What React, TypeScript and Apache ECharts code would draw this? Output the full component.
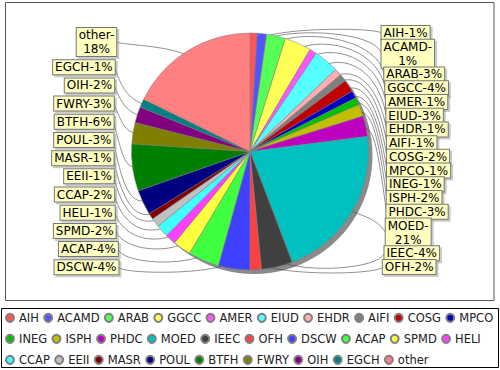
import React, { useEffect, useRef } from 'react';
import * as echarts from 'echarts';

const names = ['AIH', 'ACAMD', 'ARAB', 'GGCC', 'AMER', 'EIUD', 'EHDR', 'AIFI', 'COSG', 'MPCO', 'INEG', 'ISPH', 'PHDC', 'MOED', 'IEEC', 'OFH', 'DSCW', 'ACAP', 'SPMD', 'HELI', 'CCAP', 'EEII', 'MASR', 'POUL', 'BTFH', 'FWRY', 'OIH', 'EGCH', 'other'];
const values = [0.97, 1.28, 2.56, 3.64, 0.97, 3.4, 0.97, 1.03, 1.67, 1.0, 1.0, 1.64, 2.78, 21.2, 4.25, 1.55, 4.28, 4.22, 2.45, 1.44, 1.72, 1.22, 0.83, 3.4, 6.4, 2.9, 2.17, 1.14, 17.7];
const colors = ['#FF5555', '#5555FF', '#55FF55', '#FFFF55', '#FF55FF', '#55FFFF', '#FFAFAF', '#808080', '#C00000', '#0000C0', '#00C000', '#C0C000', '#C000C0', '#00C0C0', '#404040', '#FF4040', '#4040FF', '#40FF40', '#FFFF40', '#FF40FF', '#40FFFF', '#C0C0C0', '#800000', '#000080', '#008000', '#808000', '#800080', '#008080', '#FF8080'];

const CX = 250;
const CY = 151.5;
const R = 118.5;
const LH = 14;
const FONT = '12px "DejaVu Sans"';
const WRAP_W = 61.7;

let mctx: CanvasRenderingContext2D | null = null;
function tw(s: string): number {
  if (!mctx) mctx = document.createElement('canvas').getContext('2d');
  mctx!.font = FONT;
  return mctx!.measureText(s).width;
}

type Item = { theta: number; text: string; lines: number; w: number; right: boolean; yc: number; cx: number; pts: number[][] };

function computeLabels(): Item[] {
  const total = values.reduce((a, b) => a + b, 0);
  let cum = 0;
  const items: Item[] = values.map((v, i) => {
    const theta = ((cum + v / 2) / total) * Math.PI * 2;
    cum += v;
    const pct = Math.round((v / total) * 100);
    const full = `${names[i]}-${pct}%`;
    const text = tw(full) > WRAP_W ? `${names[i]}-\n${pct}%` : full;
    const ls = text.split('\n');
    return { theta, text, lines: ls.length, w: Math.max(...ls.map(tw)), right: theta < Math.PI, yc: 0, cx: 0, pts: [] };
  });
  const rightArr = items.filter((it) => it.right);
  const leftArr = items.filter((it) => !it.right).reverse();
  const stack = (arr: Item[], top: number, bot: number) => {
    const hs = arr.map((it) => it.lines * LH);
    const sum = hs.reduce((a, b) => a + b, 0);
    const gap = (bot - top - sum) / (arr.length - 1);
    let y = top;
    arr.forEach((it, k) => {
      it.yc = y + hs[k] / 2;
      y += hs[k] + gap;
    });
  };
  stack(rightArr, 26, 274);
  stack(leftArr, 28, 274.3);
  const RL = R / 0.95;
  items.forEach((it) => {
    const ux = Math.sin(it.theta);
    const uy = -Math.cos(it.theta);
    let tx: number;
    let ax: number;
    if (it.right) {
      const k = (it.yc - 165) / 105;
      tx = 381.5 + 5.5 * Math.sqrt(Math.max(0, 1 - k * k));
      it.cx = tx + (it.w + 4) / 2;
      ax = CX + RL;
    } else {
      const k = (it.yc - 140) / 110;
      tx = 118.5 - 5 * Math.sqrt(Math.max(0, 1 - k * k));
      it.cx = tx - (it.w + 4) / 2;
      ax = CX - RL;
    }
    const T = [tx, it.yc];
    const E = [CX + RL * ux, CY + RL * uy];
    const C1 = [ax, E[1]];
    const L = [CX + 0.9 * R * ux, CY + 0.9 * R * uy];
    const pts: number[][] = [];
    const N = 30;
    for (let s = 0; s <= N; s++) {
      const t = s / N;
      const a = (1 - t) * (1 - t) * (1 - t);
      const b = 3 * (1 - t) * (1 - t) * t;
      const c = 3 * (1 - t) * t * t;
      const d = t * t * t;
      pts.push([a * T[0] + b * C1[0] + c * E[0] + d * L[0], a * T[1] + b * C1[1] + c * E[1] + d * L[1]]);
    }
    it.pts = pts;
  });
  return items;
}

export default function App() {
  const ref = useRef<HTMLDivElement>(null);
  useEffect(() => {
    if (!ref.current) return;
    const chart = echarts.init(ref.current, undefined, { renderer: 'svg' });
    const items = computeLabels();
    chart.setOption({
      animation: false,
      backgroundColor: '#ffffff',
      graphic: [
        { type: 'rect', silent: true, z: -10, shape: { x: 5.5, y: 2.5, width: 488.5, height: 298 }, style: { fill: 'none', stroke: '#555555', lineWidth: 1 } },
        { type: 'rect', silent: true, z: -10, shape: { x: 1.5, y: 308.5, width: 497, height: 59 }, style: { fill: 'none', stroke: '#000000', lineWidth: 1 } },
      ],
      legend: {
        data: names,
        left: 5,
        top: 309.5,
        width: 493,
        orient: 'horizontal',
        icon: 'circle',
        itemWidth: 8,
        itemHeight: 8,
        itemGap: 4.3,
        padding: 0,
        selectedMode: false,
        textStyle: { fontFamily: 'DejaVu Sans', fontSize: 11.5, color: '#222222', lineHeight: 16.7 },
      },
      series: [
        {
          type: 'pie',
          silent: true,
          z: 1,
          center: [CX + 4, CY + 4],
          radius: R,
          data: [{ value: 1, name: '__shadow' }],
          itemStyle: { color: '#8a8a8a' },
          label: { show: false },
          labelLine: { show: false },
        },
        {
          type: 'pie',
          z: 2,
          center: [CX, CY],
          radius: R,
          startAngle: 90,
          clockwise: true,
          avoidLabelOverlap: false,
          data: names.map((n, i) => ({ name: n, value: values[i], itemStyle: { color: colors[i] } })),
          itemStyle: { borderColor: '#808080', borderWidth: 0.5 },
          label: {
            show: true,
            position: 'outside',
            formatter: (p: any) => items[p.dataIndex].text,
            fontFamily: 'DejaVu Sans',
            fontSize: 12,
            lineHeight: LH,
            color: '#000000',
            backgroundColor: '#FFFFC0',
            borderColor: '#777777',
            borderWidth: 1,
            padding: [0, 2],
            shadowColor: 'rgba(151,151,151,0.5)',
            shadowOffsetX: 2,
            shadowOffsetY: 2,
            shadowBlur: 0,
            overflow: 'none',
          },
          labelLine: { show: true, smooth: false, lineStyle: { color: '#444444', width: 0.6 } },
          labelLayout: (params: any) => {
            const it = items[params.dataIndex];
            return { x: it.cx, y: it.yc, align: 'center', verticalAlign: 'middle', labelLinePoints: it.pts };
          },
          emphasis: { disabled: true },
        },
      ],
    });
    return () => chart.dispose();
  }, []);
  return <div ref={ref} style={{ position: 'absolute', left: 0, top: 0, width: 500, height: 370 }} />;
}
